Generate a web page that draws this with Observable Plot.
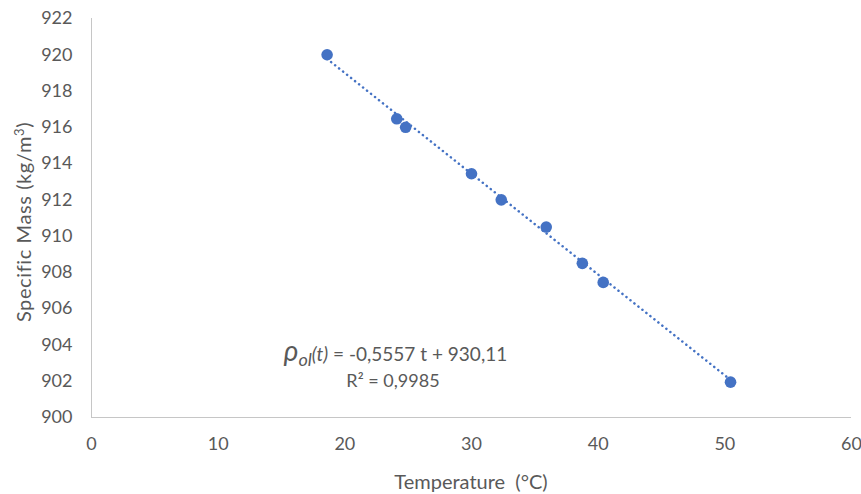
<!DOCTYPE html>
<html><head><meta charset="utf-8">
<script src="https://cdn.jsdelivr.net/npm/d3@7"></script>
<script src="https://cdn.jsdelivr.net/npm/@observablehq/plot@0.6"></script>
<style>
body{margin:0;background:#fff;}
svg{font-family:Lato,"Open Sans",sans-serif;}
</style>
</head><body>
<div id="chart"></div>
<script>
const temperature = [18.6, 24.1, 24.8, 30.0, 32.35, 35.9, 38.75, 40.4, 50.45];
const specificMass = [920.0, 916.47, 916.0, 913.44, 912.0, 910.5, 908.5, 907.45, 901.95];
const slope = -0.5557;
const intercept = 930.11;
const xTicks = [0, 10, 20, 30, 40, 50, 60];
const yTicks = [900, 902, 904, 906, 908, 910, 912, 914, 916, 918, 920, 922];
const eqLabel = {x: 24.0, y: 903.45, text: "ρol(t) = -0,5557 t + 930,11"};
const r2Label = {x: 23.8, y: 902.0, text: "R² = 0,9985"};

const points = temperature.map((t, i) => ({t, m: specificMass[i]}));
const tMin = d3.min(temperature), tMax = d3.max(temperature);
const trend = [tMin, tMax].map(t => ({t, m: slope * t + intercept}));

const grey = "#595959";
const blue = "#4472C4";

const plot = Plot.plot({
  width: 861, height: 494,
  marginLeft: 91, marginRight: 10, marginTop: 18, marginBottom: 77,
  style: {fontSize: "18px", color: grey, fontFamily: "Lato, 'Open Sans', sans-serif", background: "#fff"},
  x: {domain: [0, 60], label: null},
  y: {domain: [900, 922], label: null},
  marks: [
    Plot.ruleX([0], {stroke: "#c6c6c6", strokeWidth: 1}),
    Plot.ruleY([900], {stroke: "#c6c6c6", strokeWidth: 1}),
    Plot.axisX({ticks: xTicks, tickSize: 0, tickPadding: 20, fill: grey, fontSize: 18, label: null}),
    Plot.axisY({ticks: yTicks, tickSize: 0, tickPadding: 19, fill: grey, fontSize: 18, label: null}),
    Plot.line(trend, {x: "t", y: "m", stroke: blue, strokeWidth: 2.5, strokeDasharray: "0.1 5", strokeLinecap: "round"}),
    Plot.dot(points, {x: "t", y: "m", r: 5.8, fill: blue, stroke: null}),
    Plot.text([eqLabel], {x: "x", y: "y", text: "text", fill: grey, fontSize: 19, className: "eq"}),
    Plot.text([r2Label], {x: "x", y: "y", text: "text", fill: grey, fontSize: 18})
  ]
});

// rich formatting for the equation label
const eq = d3.select(plot).select(".eq text");
if (!eq.empty()) {
  eq.text(null);
  eq.append("tspan").attr("font-style", "italic").attr("font-size", 28).text("ρ");
  eq.append("tspan").attr("font-style", "italic").attr("font-size", 18).attr("dy", 5).text("ol");
  eq.append("tspan").attr("font-style", "italic").attr("dy", -5).text("(t)");
  eq.append("tspan").text(" = -0,5557 t + 930,11");
}

// axis titles
const svg = d3.select(plot);
svg.append("text").attr("x", 471).attr("y", 489)
  .attr("text-anchor", "middle").attr("fill", grey).attr("font-size", 20).text("Temperature  (°C)");
const yl = svg.append("text").attr("transform", `translate(31,222) rotate(-90)`)
  .attr("text-anchor", "middle").attr("fill", grey).attr("font-size", 20).attr("letter-spacing", 0.6);
yl.append("tspan").text("Specific Mass (kg/m");
yl.append("tspan").attr("dy", -7).attr("font-size", 13).text("3");
yl.append("tspan").attr("dy", 7).text(")");

document.getElementById("chart").appendChild(plot);
</script>
</body></html>
